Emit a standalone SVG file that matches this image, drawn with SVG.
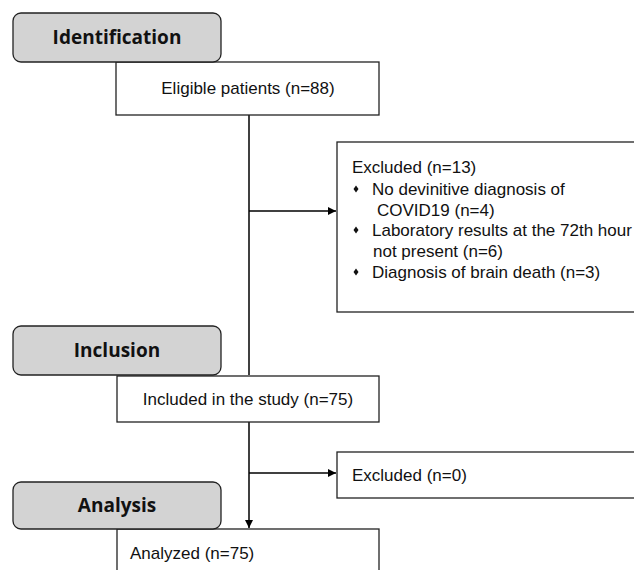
<svg xmlns="http://www.w3.org/2000/svg" width="634" height="570" viewBox="0 0 634 570">
<style>
.stage rect{fill:#d3d3d3;stroke:#222;stroke-width:1.3}
.stage text{font-family:"Open Sans","Noto Sans",sans-serif;font-weight:bold;font-size:19px;fill:#111;text-anchor:middle}
.box rect{fill:#fff;stroke:#222;stroke-width:1.3}
.box text{font-family:"Liberation Sans",Arial,sans-serif;font-size:17px;fill:#111}
.bullet{fill:#111}
.conn path{fill:none;stroke:#000;stroke-width:1.5}
</style>
<defs>
<marker id="ah" viewBox="0 0 10 10" refX="10" refY="5" markerWidth="8" markerHeight="8" markerUnits="userSpaceOnUse" orient="auto">
<path d="M0,0L10,5L0,10z" fill="#000"/>
</marker>
<path id="dm" d="M0,-3.5L2.5,0L0,3.5L-2.5,0z"/>
</defs>
<rect width="634" height="570" fill="#fff"/>
<g class="conn">
<path d="M249,115V375"/>
<path d="M249,211H336" marker-end="url(#ah)"/>
<path d="M249,422V528" marker-end="url(#ah)"/>
<path d="M249,473H336" marker-end="url(#ah)"/>
</g>
<g id="eligible" class="box"><rect x="116" y="62" width="263" height="53"/><text x="248" y="94" text-anchor="middle">Eligible patients (n=88)</text></g>
<g id="identification" class="stage"><rect x="13" y="13" width="208" height="49" rx="8"/><text x="117" y="44">Identification</text></g>
<g id="excluded13" class="box"><rect x="337" y="142" width="300" height="170"/>
<text x="352" y="173">Excluded (n=13)</text>
<use href="#dm" x="356" y="189" class="bullet"/>
<text x="372" y="195">No devinitive diagnosis of</text>
<text x="377" y="216">COVID19 (n=4)</text>
<use href="#dm" x="356" y="230" class="bullet"/>
<text x="372" y="236">Laboratory results at the 72th hour</text>
<text x="373" y="257">not present (n=6)</text>
<use href="#dm" x="356" y="272" class="bullet"/>
<text x="372" y="278">Diagnosis of brain death (n=3)</text>
</g>
<g id="included" class="box"><rect x="117" y="376" width="262" height="46"/><text x="248" y="405" text-anchor="middle">Included in the study (n=75)</text></g>
<g id="inclusion" class="stage"><rect x="13" y="326" width="208" height="49" rx="8"/><text x="117" y="357">Inclusion</text></g>
<g id="excluded0" class="box"><rect x="337" y="452" width="300" height="46"/><text x="352" y="481">Excluded (n=0)</text></g>
<g id="analyzed" class="box"><rect x="117" y="529" width="262" height="50"/><text x="130" y="559">Analyzed (n=75)</text></g>
<g id="analysis" class="stage"><rect x="13" y="482" width="208" height="47" rx="8"/><text x="117" y="512">Analysis</text></g>
</svg>
